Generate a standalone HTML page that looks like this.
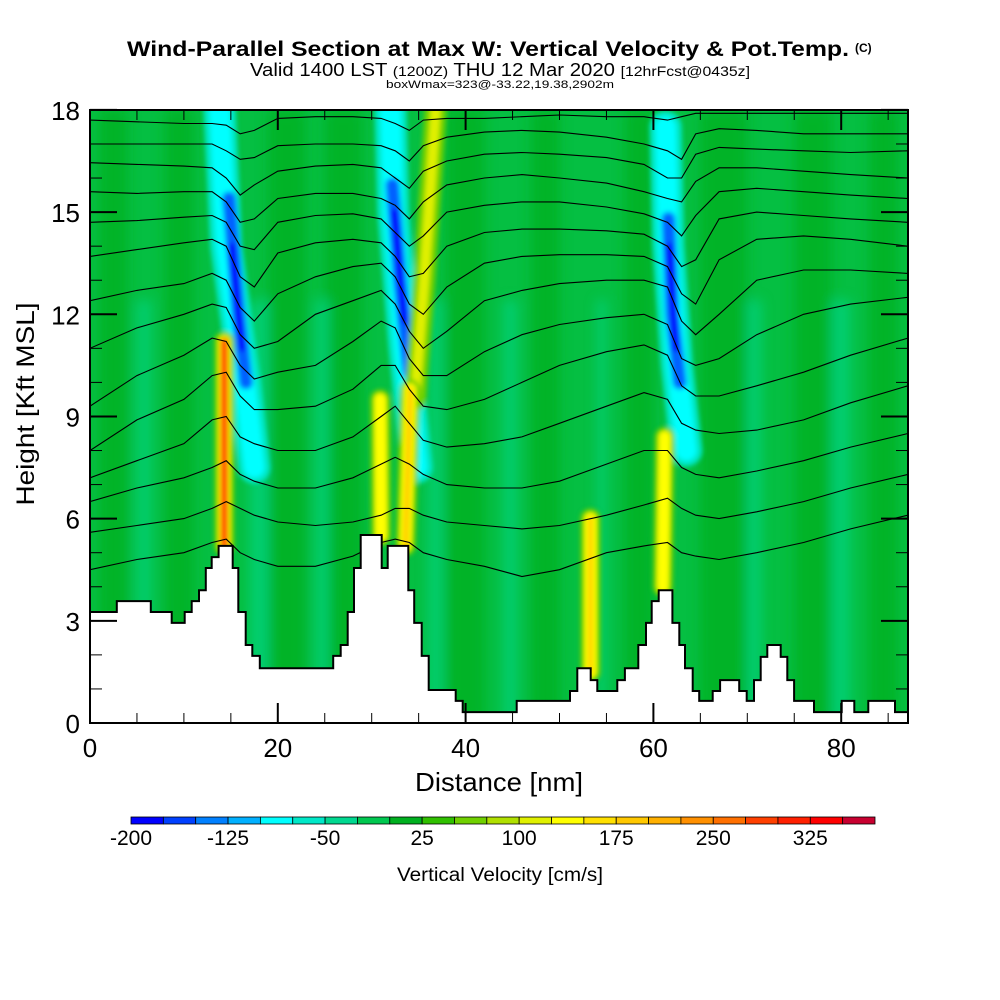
<!DOCTYPE html>
<html><head><meta charset="utf-8"><style>
body{margin:0;background:#fff;}
svg{display:block;font-family:"Liberation Sans",sans-serif;}
</style></head><body>
<svg id="chart" width="1000" height="1000" viewBox="0 0 1000 1000">
<defs>
<clipPath id="plotclip"><rect x="90" y="110" width="818" height="613"/></clipPath>
<filter id="blur" x="-50%" y="-10%" width="200%" height="120%"><feGaussianBlur stdDeviation="2.5"/></filter>
<filter id="blur2" x="-50%" y="-10%" width="200%" height="120%"><feGaussianBlur stdDeviation="6"/></filter>
</defs>
<text x="127" y="56" font-size="21" font-weight="bold" textLength="722" lengthAdjust="spacingAndGlyphs">Wind-Parallel Section at Max W: Vertical Velocity &amp; Pot.Temp.</text>
<text x="855" y="52" font-size="12" font-weight="bold">(C)</text>
<text x="250" y="76" font-size="18" textLength="500" lengthAdjust="spacingAndGlyphs">Valid 1400 LST <tspan font-size="14">(1200Z)</tspan> THU 12 Mar 2020 <tspan font-size="14">[12hrFcst@0435z]</tspan></text>
<text x="386" y="88" font-size="11" textLength="228" lengthAdjust="spacingAndGlyphs">boxWmax=323@-33.22,19.38,2902m</text>
<g id="plot" clip-path="url(#plotclip)"></g>
<g id="axes"></g>
<g id="cbar"></g>
<text x="499" y="791" text-anchor="middle" font-size="26" textLength="168" lengthAdjust="spacingAndGlyphs">Distance [nm]</text>
<text transform="translate(34,404) rotate(-90)" text-anchor="middle" font-size="25" textLength="203" lengthAdjust="spacingAndGlyphs">Height [Kft MSL]</text>
<text x="500" y="881" text-anchor="middle" font-size="19" textLength="206" lengthAdjust="spacingAndGlyphs">Vertical Velocity [cm/s]</text>
</svg>
<script>
const NS="http://www.w3.org/2000/svg";
// ---- data ----
const xTicks=[0,20,40,60,80];
const yTicks=[0,3,6,9,12,15,18];
const cbarLabels=[-200,-125,-50,25,100,175,250,325];
const cbarColors=["#0000ff","#0040ff","#0080ff","#00b0ff","#00ffff","#00e8c8","#00d890","#00c850","#00b020","#30c000","#70d000","#b0e000","#e0f000","#ffff00","#ffe000","#ffc800","#ffb000","#ff9000","#ff7000","#ff4000","#ff2000","#ff0000","#c80030"];
const terrainX=[0,2.85,6.47,8.7,10.09,10.83,11.61,12.33,12.96,13.7,15.2,15.79,16.58,17.28,18.08,25.9,26.7,27.44,28.12,28.83,31.06,31.7,33.9,34.53,35.33,36.07,38.95,39.69,45.44,51.12,51.9,53.32,54.03,56.16,56.97,58.39,59.21,59.82,60.56,62.02,62.76,63.37,64.19,64.88,66.31,67.1,69.14,69.94,70.71,71.43,72.13,73.56,74.26,74.98,77.1,80.05,81.4,82.89,85.73];
const terrainH=[3.26,3.58,3.26,2.94,3.26,3.58,3.9,4.55,4.87,5.2,4.55,3.26,2.29,1.97,1.61,1.97,2.29,3.26,4.55,5.52,4.55,5.2,3.9,2.94,1.97,0.97,0.65,0.32,0.65,0.94,1.61,1.26,0.94,1.26,1.61,2.29,2.94,3.58,3.9,2.94,2.29,1.61,0.94,0.65,0.94,1.26,0.94,0.65,1.26,1.94,2.29,1.94,1.26,0.65,0.32,0.65,0.32,0.65,0.32];
const contourX=[0,5,10,13,14.5,16,17.5,20,24,28,31,32.5,34,35.5,38,42,46,50,55,59,61.5,63,64.5,67,71,76,81,87.1];
const theta1=[17.7,17.65,17.6,17.6,17.55,17.3,17.4,17.75,17.8,17.8,17.75,17.6,17.4,17.7,17.75,17.75,17.8,17.85,17.8,17.8,17.7,17.8,17.9,17.9,17.9,17.9,17.9,17.9];
const theta2=[17.0,17.0,17.0,17.0,16.8,16.55,16.6,16.95,17.0,17.0,16.95,16.8,16.5,16.95,17.2,17.35,17.4,17.35,17.2,17.0,16.8,16.55,17.3,17.45,17.4,17.3,17.3,17.3];
const theta3=[16.45,16.4,16.35,16.3,16.0,15.5,15.8,16.2,16.35,16.4,16.3,16.0,15.7,16.2,16.5,16.7,16.75,16.7,16.6,16.4,16.0,16.0,16.7,16.9,16.85,16.8,16.75,16.8];
const theta4=[15.6,15.55,15.6,15.6,15.3,14.7,14.8,15.4,15.55,15.55,15.4,15.2,14.8,15.3,15.8,16.0,16.1,16.0,15.85,15.6,15.4,15.3,15.9,16.3,16.3,16.2,16.1,16.0];
const theta5=[14.7,14.75,14.85,14.9,14.7,14.0,13.9,14.7,14.9,14.95,14.8,14.4,14.0,14.3,15.0,15.2,15.3,15.3,15.15,14.95,14.7,14.3,14.9,15.6,15.7,15.6,15.5,15.4];
const theta6=[13.7,13.9,14.1,14.2,14.0,13.1,12.8,13.8,14.1,14.2,14.1,13.7,13.1,13.2,14.0,14.4,14.5,14.5,14.45,14.35,14.0,13.4,13.6,14.8,15.0,14.9,14.8,14.7];
const theta7=[12.4,12.7,12.9,13.2,13.0,12.2,11.8,12.6,13.1,13.4,13.5,13.1,12.3,12.0,12.8,13.5,13.7,13.75,13.75,13.7,13.4,12.6,12.3,13.6,14.2,14.3,14.2,14.0];
const theta8=[11.0,11.6,12.0,12.3,12.2,11.4,11.0,11.2,12.0,12.4,12.7,12.3,11.5,11.0,11.5,12.4,12.7,12.9,13.0,13.0,12.8,11.8,11.4,12.0,13.0,13.3,13.3,13.2];
const theta9=[9.3,10.2,10.8,11.3,11.2,10.5,10.1,10.3,10.5,11.2,11.8,11.6,10.7,10.2,10.2,10.9,11.4,11.7,11.9,12.0,11.7,10.7,10.5,10.7,11.4,12.0,12.3,12.5];
const theta10=[8.0,8.9,9.5,10.2,10.3,9.6,9.2,9.2,9.3,9.8,10.5,10.5,9.8,9.3,9.2,9.5,10.0,10.5,10.9,11.1,10.8,9.9,9.6,9.6,9.9,10.3,10.8,11.3];
const theta11=[7.2,7.7,8.2,8.9,9.0,8.4,8.2,8.0,8.0,8.4,9.0,9.3,8.8,8.3,8.1,8.2,8.4,8.8,9.3,9.7,9.5,8.8,8.6,8.5,8.6,8.9,9.4,9.9];
const theta12=[6.5,6.9,7.2,7.5,7.7,7.3,7.1,6.9,6.9,7.2,7.6,7.8,7.6,7.3,7.0,6.9,6.9,7.1,7.6,8.0,8.0,7.5,7.3,7.2,7.4,7.7,8.1,8.5];
const theta13=[5.6,5.8,6.0,6.3,6.5,6.3,6.1,5.9,5.8,5.9,6.1,6.3,6.3,6.1,5.9,5.8,5.7,5.8,6.1,6.4,6.6,6.3,6.1,6.0,6.2,6.5,6.9,7.3];
const theta14=[4.5,4.8,5.0,5.3,5.4,5.0,4.8,4.6,4.6,4.9,5.3,5.4,5.3,5.0,4.8,4.6,4.3,4.5,5.0,5.2,5.3,5.0,4.9,4.8,5.0,5.3,5.7,6.1];
const darkBandsX0=[1,8,19,25,38,47,57,65,75,83];
const darkBandsX1=[4,11,23,29,42,50,60,70,79,86];
const lightBandsX0=[5,17,24,36,44,54,70,79];
const lightBandsX1=[6.5,19,25.5,37.5,45.5,55,71.5,81];
const streakCyanA=[[13.8,18],[14.5,14],[16.5,10],[17.5,7.5]];
const streakCyanB=[[32,18],[32.3,15],[33.5,11],[34.8,7.5]];
const streakCyanC=[[61.3,17.5],[61.6,14],[62.5,10.5],[63.5,8]];
const streakBlueA=[[14.8,15.4],[15.8,12],[16.6,10.0]];
const streakBlueB=[[32.2,15.8],[33,13],[34,10.3]];
const streakBlueC=[[61.6,14.8],[62,12],[62.8,10.0]];
const streakDarkA=[[15.1,14.0],[16.2,11.0]];
const streakDarkB=[[32.4,15.0],[33.5,11.8]];
const streakDarkC=[[61.7,14.0],[62.4,11.0]];
const updraftA=[[14.3,11.2],[14.3,5.2]];
const updraftB1=[[30.9,9.5],[31.0,5.5]];
const updraftB2=[[34.1,9.8],[33.6,5.2]];
const updraftB3=[[36.8,18],[35.6,13],[34.6,9.5]];
const updraftC=[[61.2,8.4],[61.0,4]];
const updraftD=[[53.3,6],[53.3,1.5]];
// ---- scales ----
const X0=90,PXNM=9.39,Y0=723,PXK=34.06;
const sx=v=>X0+v*PXNM, sy=v=>Y0-v*PXK;
const plot=document.getElementById('plot');
function mk(tag,attrs,parent){const e=document.createElementNS(NS,tag);for(const k in attrs)e.setAttribute(k,attrs[k]);parent.appendChild(e);return e;}
let bg=mk('rect',{x:90,y:110,width:818,height:613,fill:'#05bf42'},plot);


const bandG=mk('g',{filter:'url(#blur2)'},plot);
darkBandsX0.forEach((a,i)=>{const r=mk('rect',{x:sx(a),y:110,width:sx(darkBandsX1[i])-sx(a),height:613,fill:'#00b020',opacity:0.8},bandG);

});
lightBandsX0.forEach((a,i)=>{const r=mk('rect',{x:sx(a),y:300,width:sx(lightBandsX1[i])-sx(a),height:423,fill:'#00d890',opacity:0.6},bandG);

});
const stG=mk('g',{filter:'url(#blur)'},plot);
function streak(pts,w,col,name){const d=pts.map((p,i)=>(i?'L':'M')+sx(p[0]).toFixed(1)+','+sy(p[1]).toFixed(1)).join('');
const p=mk('path',{d:d,stroke:col,'stroke-width':w,fill:'none','stroke-linecap':'round','stroke-linejoin':'round'},stG);

}
[streakCyanA,streakCyanB,streakCyanC].forEach(s=>{streak(s,32,'#00e8c8','downdraft-outer');streak(s,20,'#00ffff','downdraft-cyan');});
[streakBlueA,streakBlueB,streakBlueC].forEach(s=>{streak(s,15,'#00b0ff','downdraft-lightblue');streak(s,11,'#0060ff','downdraft-blue');});
[streakDarkA,streakDarkB,streakDarkC].forEach(s=>streak(s,7,'#0000ff','downdraft-max'));
streak(updraftB3,22,'#70d000','updraft-outer');streak(updraftB3,10,'#e0f000','updraft-yellow');
[updraftA,updraftB1,updraftB2,updraftC,updraftD].forEach(s=>{streak(s,20,'#70d000','updraft-outer');streak(s,12,'#ffff00','updraft-yellow');});
streak(updraftA,8,'#ff9000','updraft-orange');streak(updraftA,4,'#ff2000','updraft-red');
streak(updraftB2,5,'#ffc800','updraft-orange');streak(updraftD,4,'#ffc800','updraft-orange');
const thetas=[theta1,theta2,theta3,theta4,theta5,theta6,theta7,theta8,theta9,theta10,theta11,theta12,theta13,theta14];
thetas.forEach(arr=>{const d=arr.map((v,i)=>(i?'L':'M')+sx(contourX[i]).toFixed(1)+','+sy(v).toFixed(1)).join('');
const p=mk('path',{d:d,stroke:'#000','stroke-width':1.1,fill:'none'},plot);

});
let td='M'+sx(0)+','+sy(0);
terrainX.forEach((x,i)=>{const x2=i<terrainX.length-1?terrainX[i+1]:87.2;td+='L'+sx(x).toFixed(1)+','+sy(terrainH[i]).toFixed(1)+'L'+sx(x2).toFixed(1)+','+sy(terrainH[i]).toFixed(1);});
td+='L'+sx(87.2)+','+sy(0)+'Z';
const ter=mk('path',{d:td,fill:'#fff',stroke:'#000','stroke-width':2},plot);


const ax=document.getElementById('axes');
const frame=mk('rect',{x:90,y:110,width:818,height:613,fill:'none',stroke:'#000','stroke-width':2},ax);


for(let v=0;v<=87;v+=5){const big=v%20===0;const L=big?20:10;
mk('line',{x1:sx(v),y1:723,x2:sx(v),y2:723-L,stroke:'#000','stroke-width':big?2:1},ax);
mk('line',{x1:sx(v),y1:110,x2:sx(v),y2:110+L,stroke:'#000','stroke-width':big?2:1},ax);}
for(let v=0;v<=18;v++){const big=v%3===0;const L=big?27:12;
mk('line',{x1:90,y1:sy(v),x2:90+L,y2:sy(v),stroke:'#000','stroke-width':big?2:1},ax);
mk('line',{x1:908,y1:sy(v),x2:908-L,y2:sy(v),stroke:'#000','stroke-width':big?2:1},ax);}
xTicks.forEach(v=>{const t=mk('text',{x:sx(v),y:757,'text-anchor':'middle','font-size':26},ax);t.textContent=v;

});
yTicks.forEach(v=>{const t=mk('text',{x:80,y:sy(v)+10,'text-anchor':'end','font-size':26},ax);t.textContent=v;

});
const cb=document.getElementById('cbar');
const CB0=131,CBW=(875-131)/cbarColors.length;
cbarColors.forEach((c,i)=>{const r=mk('rect',{x:CB0+i*CBW,y:817,width:CBW,height:7,fill:c,stroke:'#000','stroke-width':0.8},cb);

});
cbarLabels.forEach(v=>{const t=mk('text',{x:CB0+(v+200)/25*CBW,y:845,'text-anchor':'middle','font-size':21},cb);t.textContent=v;

});
</script>
</body></html>
